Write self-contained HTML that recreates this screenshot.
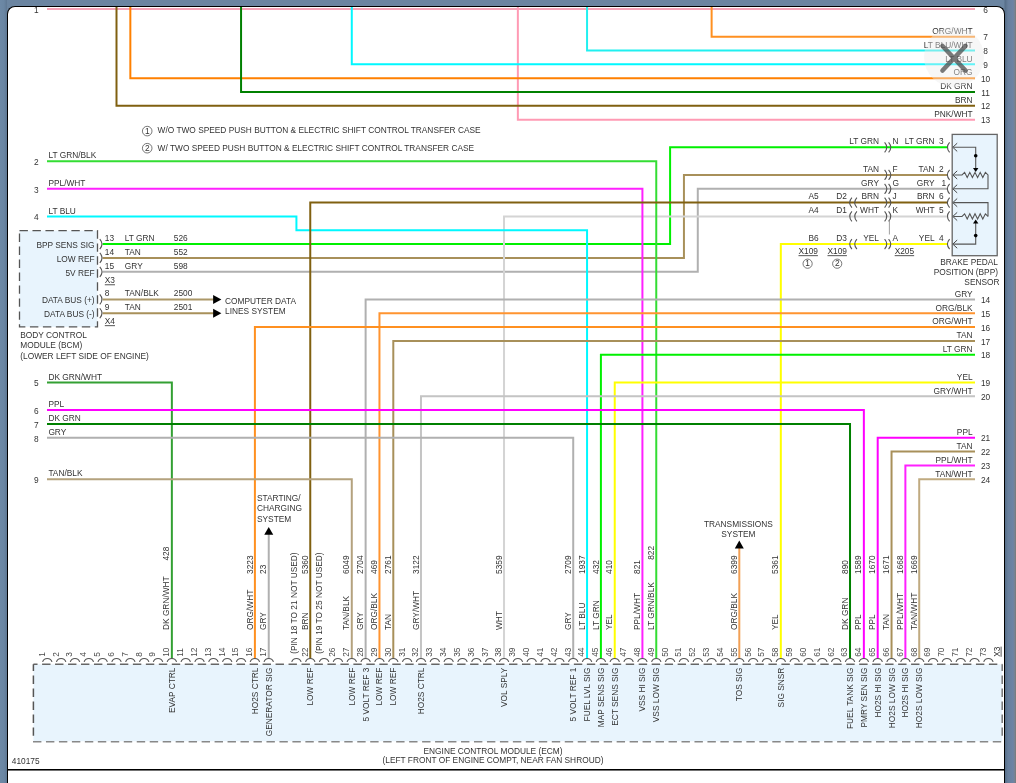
<!DOCTYPE html>
<html><head><meta charset="utf-8"><title>Wiring Diagram</title>
<style>
html,body{margin:0;padding:0;width:1016px;height:783px;overflow:hidden;background:#6b85a1;}
#bg{position:absolute;left:0;top:0;width:1016px;height:783px;background:linear-gradient(90deg,#6d89a6 0,#6a86a3 4px,#5f7893 7px,#6b85a1 7px,#6b85a1 1004px,#566e88 1005px,#687f9c 1008px,#6c84a6 1013px,#7a8290 1015px,#727a74 1016px);}
#panel{position:absolute;left:7px;top:6px;width:996px;height:800px;background:#fff;border:1px solid #000;border-bottom:none;border-radius:8px 8px 0 0;overflow:hidden;}
#hr{position:absolute;left:8px;top:769px;width:996px;height:1px;background:#000;box-shadow:0 1px 0 rgba(0,0,0,0.55);}
svg{position:absolute;left:-8px;top:-7px;}
svg text{font-family:"Liberation Sans",Arial,sans-serif;font-size:8.33px;fill:#333;}
svg text.pn{fill:#4a4a4a;}
#close{position:absolute;left:924px;top:26.5px;width:60px;height:60px;border-radius:50%;background:rgba(236,236,236,0.42);}
</style></head>
<body>
<div id="bg"></div>
<div id="panel">
<svg width="1016" height="783" viewBox="0 0 1016 783">
<g id="wires">
<polyline points="47.0,9.0 975.0,9.0" stroke="#f5a2b6" stroke-width="2" fill="none"/>
<polyline points="517.86,0 517.86,119.64 975.0,119.64" stroke="#ff9ab4" stroke-width="2" fill="none"/>
<polyline points="711.62,0 711.62,36.66 975.0,36.66" stroke="#ff9020" stroke-width="2" fill="none"/>
<polyline points="587.06,0 587.06,50.49 975.0,50.49" stroke="#20f0f0" stroke-width="2" fill="none"/>
<polyline points="351.78,0 351.78,64.32 975.0,64.32" stroke="#00f8ff" stroke-width="2" fill="none"/>
<polyline points="130.34,0 130.34,78.15 975.0,78.15" stroke="#ff8000" stroke-width="2" fill="none"/>
<polyline points="241.06,0 241.06,91.98 975.0,91.98" stroke="#008000" stroke-width="2" fill="none"/>
<polyline points="116.5,0 116.5,105.81 975.0,105.81" stroke="#806010" stroke-width="2" fill="none"/>
<polyline points="102.6,244.11 670.1,244.11 670.1,147.3 947.5,147.3" stroke="#00f000" stroke-width="2" fill="none"/>
<polyline points="102.6,257.94 683.94,257.94 683.94,174.96 947.5,174.96" stroke="#a8905a" stroke-width="2" fill="none"/>
<polyline points="102.6,271.77 697.78,271.77 697.78,188.79 947.5,188.79" stroke="#b0b0b0" stroke-width="2" fill="none"/>
<polyline points="947.5,216.45 504.02,216.45 504.02,658.6" stroke="#d4d4d4" stroke-width="2" fill="none"/>
<polyline points="47.0,161.13 656.26,161.13 656.26,658.6" stroke="#33dd33" stroke-width="2" fill="none"/>
<polyline points="47.0,188.79 642.42,188.79 642.42,658.6" stroke="#ff20ff" stroke-width="2" fill="none"/>
<polyline points="47.0,216.45 296.42,216.45 296.42,230.28 587.06,230.28 587.06,658.6" stroke="#00f8ff" stroke-width="2" fill="none"/>
<polyline points="947.5,202.62 310.26,202.62 310.26,658.6" stroke="#806010" stroke-width="2" fill="none"/>
<polyline points="102.6,299.43 214,299.43" stroke="#ac9868" stroke-width="2" fill="none"/>
<polyline points="102.6,313.26 214,313.26" stroke="#a8905a" stroke-width="2" fill="none"/>
<polyline points="947.5,244.11 780.82,244.11 780.82,658.6" stroke="#ffff00" stroke-width="2" fill="none"/>
<polyline points="975.0,299.43 365.62,299.43 365.62,658.6" stroke="#b0b0b0" stroke-width="2" fill="none"/>
<polyline points="975.0,313.26 379.46,313.26 379.46,658.6" stroke="#ff9430" stroke-width="2" fill="none"/>
<polyline points="975.0,327.09 254.9,327.09 254.9,658.6" stroke="#ff9020" stroke-width="2" fill="none"/>
<polyline points="975.0,340.92 393.3,340.92 393.3,658.6" stroke="#a8905a" stroke-width="2" fill="none"/>
<polyline points="975.0,354.75 600.9,354.75 600.9,658.6" stroke="#00f000" stroke-width="2" fill="none"/>
<polyline points="975.0,382.41 614.74,382.41 614.74,658.6" stroke="#ffff00" stroke-width="2" fill="none"/>
<polyline points="975.0,396.24 420.98,396.24 420.98,658.6" stroke="#c4c4c4" stroke-width="2" fill="none"/>
<polyline points="975.0,437.73 877.7,437.73 877.7,658.6" stroke="#ff00ff" stroke-width="2" fill="none"/>
<polyline points="975.0,451.56 891.54,451.56 891.54,658.6" stroke="#a8905a" stroke-width="2" fill="none"/>
<polyline points="975.0,465.39 905.38,465.39 905.38,658.6" stroke="#ff20ff" stroke-width="2" fill="none"/>
<polyline points="975.0,479.22 919.22,479.22 919.22,658.6" stroke="#c0aa80" stroke-width="2" fill="none"/>
<polyline points="47.0,382.41 171.86,382.41 171.86,658.6" stroke="#33a033" stroke-width="2" fill="none"/>
<polyline points="47.0,410.07 863.86,410.07 863.86,658.6" stroke="#ff00ff" stroke-width="2" fill="none"/>
<polyline points="47.0,423.9 850.02,423.9 850.02,658.6" stroke="#008000" stroke-width="2" fill="none"/>
<polyline points="47.0,437.73 573.22,437.73 573.22,658.6" stroke="#b0b0b0" stroke-width="2" fill="none"/>
<polyline points="47.0,479.22 351.78,479.22 351.78,658.6" stroke="#b4a27e" stroke-width="2" fill="none"/>
<polyline points="268.74,658.6 268.74,533" stroke="#b0b0b0" stroke-width="2" fill="none"/>
<polygon points="264.24,534.7 273.24,534.7 268.74,527" fill="#000"/>
<polyline points="739.3,658.6 739.3,547" stroke="#f2a055" stroke-width="2" fill="none"/>
<polygon points="734.8,548.4 743.8,548.4 739.3,540.6" fill="#000"/>
<polygon points="213.1,294.93 213.1,303.93 221.4,299.43" fill="#000"/>
<polygon points="213.1,308.76 213.1,317.76 221.4,313.26" fill="#000"/>
</g>
<g id="labels">
<text x="985.6" y="12.6" text-anchor="middle">6</text>
<text x="972.6" y="33.96" text-anchor="end">ORG/WHT</text>
<text x="985.6" y="40.26" text-anchor="middle">7</text>
<text x="972.6" y="47.79" text-anchor="end">LT BLU/WHT</text>
<text x="985.6" y="54.09" text-anchor="middle">8</text>
<text x="972.6" y="61.62" text-anchor="end">LT BLU</text>
<text x="985.6" y="67.92" text-anchor="middle">9</text>
<text x="972.6" y="75.45" text-anchor="end">ORG</text>
<text x="985.6" y="81.75" text-anchor="middle">10</text>
<text x="972.6" y="89.28" text-anchor="end">DK GRN</text>
<text x="985.6" y="95.58" text-anchor="middle">11</text>
<text x="972.6" y="103.11" text-anchor="end">BRN</text>
<text x="985.6" y="109.41" text-anchor="middle">12</text>
<text x="972.6" y="116.94" text-anchor="end">PNK/WHT</text>
<text x="985.6" y="123.24" text-anchor="middle">13</text>
<text x="972.6" y="296.73" text-anchor="end">GRY</text>
<text x="985.6" y="303.03" text-anchor="middle">14</text>
<text x="972.6" y="310.56" text-anchor="end">ORG/BLK</text>
<text x="985.6" y="316.86" text-anchor="middle">15</text>
<text x="972.6" y="324.39" text-anchor="end">ORG/WHT</text>
<text x="985.6" y="330.69" text-anchor="middle">16</text>
<text x="972.6" y="338.22" text-anchor="end">TAN</text>
<text x="985.6" y="344.52" text-anchor="middle">17</text>
<text x="972.6" y="352.05" text-anchor="end">LT GRN</text>
<text x="985.6" y="358.35" text-anchor="middle">18</text>
<text x="972.6" y="379.71" text-anchor="end">YEL</text>
<text x="985.6" y="386.01" text-anchor="middle">19</text>
<text x="972.6" y="393.54" text-anchor="end">GRY/WHT</text>
<text x="985.6" y="399.84" text-anchor="middle">20</text>
<text x="972.6" y="435.03" text-anchor="end">PPL</text>
<text x="985.6" y="441.33" text-anchor="middle">21</text>
<text x="972.6" y="448.86" text-anchor="end">TAN</text>
<text x="985.6" y="455.16" text-anchor="middle">22</text>
<text x="972.6" y="462.69" text-anchor="end">PPL/WHT</text>
<text x="985.6" y="468.99" text-anchor="middle">23</text>
<text x="972.6" y="476.52" text-anchor="end">TAN/WHT</text>
<text x="985.6" y="482.82" text-anchor="middle">24</text>
<text x="36.2" y="12.8" text-anchor="middle">1</text>
<text x="48.4" y="158.23">LT GRN/BLK</text>
<text x="36.2" y="164.93" text-anchor="middle">2</text>
<text x="48.4" y="185.89">PPL/WHT</text>
<text x="36.2" y="192.59" text-anchor="middle">3</text>
<text x="48.4" y="213.55">LT BLU</text>
<text x="36.2" y="220.25" text-anchor="middle">4</text>
<text x="48.4" y="379.51">DK GRN/WHT</text>
<text x="36.2" y="386.21" text-anchor="middle">5</text>
<text x="48.4" y="407.17">PPL</text>
<text x="36.2" y="413.87" text-anchor="middle">6</text>
<text x="48.4" y="421.0">DK GRN</text>
<text x="36.2" y="427.7" text-anchor="middle">7</text>
<text x="48.4" y="434.83">GRY</text>
<text x="36.2" y="441.53" text-anchor="middle">8</text>
<text x="48.4" y="476.32">TAN/BLK</text>
<text x="36.2" y="483.02" text-anchor="middle">9</text>
<circle cx="147.2" cy="131.1" r="4.8" fill="none" stroke="#555" stroke-width="0.8"/>
<text x="147.2" y="134.0" text-anchor="middle" font-size="7">1</text>
<text x="157.6" y="133.4">W/O TWO SPEED PUSH BUTTON &amp; ELECTRIC SHIFT CONTROL TRANSFER CASE</text>
<circle cx="147.2" cy="148.2" r="4.8" fill="none" stroke="#555" stroke-width="0.8"/>
<text x="147.2" y="151.1" text-anchor="middle" font-size="7">2</text>
<text x="157.6" y="151.3">W/ TWO SPEED PUSH BUTTON &amp; ELECTRIC SHIFT CONTROL TRANSFER CASE</text>
<rect x="19.5" y="230.6" width="78" height="96.3" fill="#e8f4fd" stroke="#555" stroke-width="1.3" stroke-dasharray="8.4,4.57"/>
<text x="94.6" y="248.01" text-anchor="end">BPP SENS SIG</text>
<path d="M99.8,239.11 Q104.2,244.11 99.8,249.11" fill="none" stroke="#555" stroke-width="1.1"/>
<text x="104.8" y="241.11">13</text>
<text x="124.8" y="241.11">LT GRN</text>
<text x="173.8" y="241.11">526</text>
<text x="94.6" y="261.84" text-anchor="end">LOW REF</text>
<path d="M99.8,252.94 Q104.2,257.94 99.8,262.94" fill="none" stroke="#555" stroke-width="1.1"/>
<text x="104.8" y="254.94">14</text>
<text x="124.8" y="254.94">TAN</text>
<text x="173.8" y="254.94">552</text>
<text x="94.6" y="275.67" text-anchor="end">5V REF</text>
<path d="M99.8,266.77 Q104.2,271.77 99.8,276.77" fill="none" stroke="#555" stroke-width="1.1"/>
<text x="104.8" y="268.77">15</text>
<text x="124.8" y="268.77">GRY</text>
<text x="173.8" y="268.77">598</text>
<text x="94.6" y="303.33" text-anchor="end">DATA BUS (+)</text>
<path d="M99.8,294.43 Q104.2,299.43 99.8,304.43" fill="none" stroke="#555" stroke-width="1.1"/>
<text x="104.8" y="296.43">8</text>
<text x="124.8" y="296.43">TAN/BLK</text>
<text x="173.8" y="296.43">2500</text>
<text x="94.6" y="317.16" text-anchor="end">DATA BUS (-)</text>
<path d="M99.8,308.26 Q104.2,313.26 99.8,318.26" fill="none" stroke="#555" stroke-width="1.1"/>
<text x="104.8" y="310.26">9</text>
<text x="124.8" y="310.26">TAN</text>
<text x="173.8" y="310.26">2501</text>
<text x="104.8" y="283.4" text-decoration="underline">X3</text>
<text x="104.8" y="324.3" text-decoration="underline">X4</text>
<text x="20.3" y="338.2">BODY CONTROL</text>
<text x="20.3" y="348.4">MODULE (BCM)</text>
<text x="20.3" y="358.7">(LOWER LEFT SIDE OF ENGINE)</text>
<text x="225.0" y="303.8">COMPUTER DATA</text>
<text x="225.0" y="314.0">LINES SYSTEM</text>
<text x="257.0" y="501.2">STARTING/</text>
<text x="257.0" y="511.0">CHARGING</text>
<text x="257.0" y="522.1">SYSTEM</text>
<text x="738.4" y="527.3" text-anchor="middle">TRANSMISSIONS</text>
<text x="738.4" y="537.1" text-anchor="middle">SYSTEM</text>
<rect x="952.2" y="134.4" width="45" height="121.3" fill="#e8f4fd" stroke="#666" stroke-width="1.3"/>
<path d="M884.6,142.3 Q889.0,147.3 884.6,152.3" fill="none" stroke="#555" stroke-width="1.1"/>
<path d="M888.6,142.3 Q893.0,147.3 888.6,152.3" fill="none" stroke="#555" stroke-width="1.1"/>
<path d="M949.6,142.3 Q945.2,147.3 949.6,152.3" fill="none" stroke="#555" stroke-width="1.1"/>
<path d="M957.2,143.20000000000002 L952.8,147.3 L957.2,151.4" fill="none" stroke="#333" stroke-width="0.9"/>
<text x="934.6" y="144.1" text-anchor="end">LT GRN</text>
<text x="943.6" y="144.1" text-anchor="end">3</text>
<text x="892.4" y="144.1">N</text>
<text x="879.0" y="144.1" text-anchor="end">LT GRN</text>
<path d="M884.6,169.96 Q889.0,174.96 884.6,179.96" fill="none" stroke="#555" stroke-width="1.1"/>
<path d="M888.6,169.96 Q893.0,174.96 888.6,179.96" fill="none" stroke="#555" stroke-width="1.1"/>
<path d="M949.6,169.96 Q945.2,174.96 949.6,179.96" fill="none" stroke="#555" stroke-width="1.1"/>
<path d="M957.2,170.86 L952.8,174.96 L957.2,179.06" fill="none" stroke="#333" stroke-width="0.9"/>
<text x="934.6" y="171.76" text-anchor="end">TAN</text>
<text x="943.6" y="171.76" text-anchor="end">2</text>
<text x="892.4" y="171.76">F</text>
<text x="879.0" y="171.76" text-anchor="end">TAN</text>
<path d="M884.6,183.79 Q889.0,188.79 884.6,193.79" fill="none" stroke="#555" stroke-width="1.1"/>
<path d="M888.6,183.79 Q893.0,188.79 888.6,193.79" fill="none" stroke="#555" stroke-width="1.1"/>
<path d="M949.6,183.79 Q945.2,188.79 949.6,193.79" fill="none" stroke="#555" stroke-width="1.1"/>
<path d="M957.2,184.69 L952.8,188.79 L957.2,192.89" fill="none" stroke="#333" stroke-width="0.9"/>
<text x="934.6" y="185.59" text-anchor="end">GRY</text>
<text x="946.2" y="185.59" text-anchor="end">1</text>
<text x="892.4" y="185.59">G</text>
<text x="879.0" y="185.59" text-anchor="end">GRY</text>
<path d="M884.6,197.62 Q889.0,202.62 884.6,207.62" fill="none" stroke="#555" stroke-width="1.1"/>
<path d="M888.6,197.62 Q893.0,202.62 888.6,207.62" fill="none" stroke="#555" stroke-width="1.1"/>
<path d="M949.6,197.62 Q945.2,202.62 949.6,207.62" fill="none" stroke="#555" stroke-width="1.1"/>
<path d="M957.2,198.52 L952.8,202.62 L957.2,206.72" fill="none" stroke="#333" stroke-width="0.9"/>
<text x="934.6" y="199.42" text-anchor="end">BRN</text>
<text x="943.6" y="199.42" text-anchor="end">6</text>
<text x="892.4" y="199.42">J</text>
<text x="879.0" y="199.42" text-anchor="end">BRN</text>
<path d="M884.6,211.45 Q889.0,216.45 884.6,221.45" fill="none" stroke="#555" stroke-width="1.1"/>
<path d="M888.6,211.45 Q893.0,216.45 888.6,221.45" fill="none" stroke="#555" stroke-width="1.1"/>
<path d="M949.6,211.45 Q945.2,216.45 949.6,221.45" fill="none" stroke="#555" stroke-width="1.1"/>
<path d="M957.2,212.35 L952.8,216.45 L957.2,220.54999999999998" fill="none" stroke="#333" stroke-width="0.9"/>
<text x="934.6" y="213.25" text-anchor="end">WHT</text>
<text x="943.6" y="213.25" text-anchor="end">5</text>
<text x="892.4" y="213.25">K</text>
<text x="879.0" y="213.25" text-anchor="end">WHT</text>
<path d="M884.6,239.11 Q889.0,244.11 884.6,249.11" fill="none" stroke="#555" stroke-width="1.1"/>
<path d="M888.6,239.11 Q893.0,244.11 888.6,249.11" fill="none" stroke="#555" stroke-width="1.1"/>
<path d="M949.6,239.11 Q945.2,244.11 949.6,249.11" fill="none" stroke="#555" stroke-width="1.1"/>
<path d="M957.2,240.01000000000002 L952.8,244.11 L957.2,248.21" fill="none" stroke="#333" stroke-width="0.9"/>
<text x="934.6" y="240.91" text-anchor="end">YEL</text>
<text x="943.6" y="240.91" text-anchor="end">4</text>
<text x="892.4" y="240.91">A</text>
<text x="879.0" y="240.91" text-anchor="end">YEL</text>
<path d="M851.9,197.62 Q847.5,202.62 851.9,207.62" fill="none" stroke="#555" stroke-width="1.1"/>
<path d="M856.9,197.62 Q852.5,202.62 856.9,207.62" fill="none" stroke="#555" stroke-width="1.1"/>
<text x="846.9" y="199.42" text-anchor="end">D2</text>
<text x="818.7" y="199.42" text-anchor="end">A5</text>
<path d="M851.9,211.45 Q847.5,216.45 851.9,221.45" fill="none" stroke="#555" stroke-width="1.1"/>
<path d="M856.9,211.45 Q852.5,216.45 856.9,221.45" fill="none" stroke="#555" stroke-width="1.1"/>
<text x="846.9" y="213.25" text-anchor="end">D1</text>
<text x="818.7" y="213.25" text-anchor="end">A4</text>
<path d="M851.9,239.11 Q847.5,244.11 851.9,249.11" fill="none" stroke="#555" stroke-width="1.1"/>
<path d="M856.9,239.11 Q852.5,244.11 856.9,249.11" fill="none" stroke="#555" stroke-width="1.1"/>
<text x="846.9" y="240.91" text-anchor="end">D3</text>
<text x="818.7" y="240.91" text-anchor="end">B6</text>
<line x1="889.4" y1="219.6" x2="889.4" y2="234.5" stroke="#888" stroke-width="0.8"/>
<text x="808.2" y="254.3" text-anchor="middle" text-decoration="underline">X109</text>
<text x="837.2" y="254.3" text-anchor="middle" text-decoration="underline">X109</text>
<text x="904.4" y="254.3" text-anchor="middle" text-decoration="underline">X205</text>
<circle cx="807.6" cy="263.7" r="4.6" fill="none" stroke="#555" stroke-width="0.8"/>
<text x="807.6" y="266.4" text-anchor="middle" font-size="7">1</text>
<circle cx="837.2" cy="263.7" r="4.6" fill="none" stroke="#555" stroke-width="0.8"/>
<text x="837.2" y="266.4" text-anchor="middle" font-size="7">2</text>
<text x="998" y="265.2" text-anchor="end">BRAKE PEDAL</text>
<text x="998" y="275.2" text-anchor="end">POSITION (BPP)</text>
<text x="999.5" y="285.2" text-anchor="end">SENSOR</text>
<path d="M953.5,147.3 H975.7 V168.96" stroke="#555" stroke-width="1.1" fill="none"/>
<circle cx="975.7" cy="155.7" r="1.8" fill="#000"/>
<polygon points="973,167.96 978.4,167.96 975.7,171.96" fill="#000"/>
<path d="M953.5,174.96 H962 L964.60,172.36 L967.20,177.56 L969.80,172.36 L972.40,177.56 L975.00,172.36 L977.60,177.56 L980.20,172.36 L982.80,177.56 L985.40,172.36 L988.00,174.96 V188.79 H953.5" stroke="#555" stroke-width="1.1" fill="none"/>
<path d="M953.5,202.62 H988 V216.45 " stroke="#555" stroke-width="1.1" fill="none"/>
<path d="M953.5,216.45 H962 L964.60,213.85 L967.20,219.05 L969.80,213.85 L972.40,219.05 L975.00,213.85 L977.60,219.05 L980.20,213.85 L982.80,219.05 L985.40,213.85 L988.00,216.45" stroke="#555" stroke-width="1.1" fill="none"/>
<path d="M953.5,244.11 H975.7 V222.45" stroke="#555" stroke-width="1.1" fill="none"/>
<circle cx="975.7" cy="235.6" r="1.8" fill="#000"/>
<polygon points="973,223.45 978.4,223.45 975.7,219.45" fill="#000"/>
<rect x="33.4" y="664.3" width="968.8" height="77" fill="#e8f4fd"/>
<line x1="33.4" y1="664.3" x2="1002.2" y2="664.3" stroke="#666" stroke-dasharray="8.4,4.57" stroke-width="1.5" fill="none" stroke-dashoffset="4.27"/>
<line x1="33.4" y1="664.3" x2="33.4" y2="737.6" stroke="#555" stroke-dasharray="8.4,4.57" stroke-width="1.5" fill="none" stroke-dashoffset="1.7"/>
<line x1="1002.2" y1="664.3" x2="1002.2" y2="737.6" stroke="#777" stroke-dasharray="8.4,4.57" stroke-width="1.5" fill="none" stroke-dashoffset="1.7"/>
<line x1="33.0" y1="741.8" x2="1002.2" y2="741.8" stroke="#888" stroke-dasharray="8.4,4.57" stroke-width="1.5" fill="none" stroke-dashoffset="0"/>
<path d="M42.60,661.9 C43.90,657.4 50.70,657.4 52.00,661.9" fill="none" stroke="#555" stroke-width="1.15"/>
<path d="M56.44,661.9 C57.74,657.4 64.54,657.4 65.84,661.9" fill="none" stroke="#555" stroke-width="1.15"/>
<path d="M70.28,661.9 C71.58,657.4 78.38,657.4 79.68,661.9" fill="none" stroke="#555" stroke-width="1.15"/>
<path d="M84.12,661.9 C85.42,657.4 92.22,657.4 93.52,661.9" fill="none" stroke="#555" stroke-width="1.15"/>
<path d="M97.96,661.9 C99.26,657.4 106.06,657.4 107.36,661.9" fill="none" stroke="#555" stroke-width="1.15"/>
<path d="M111.80,661.9 C113.10,657.4 119.90,657.4 121.20,661.9" fill="none" stroke="#555" stroke-width="1.15"/>
<path d="M125.64,661.9 C126.94,657.4 133.74,657.4 135.04,661.9" fill="none" stroke="#555" stroke-width="1.15"/>
<path d="M139.48,661.9 C140.78,657.4 147.58,657.4 148.88,661.9" fill="none" stroke="#555" stroke-width="1.15"/>
<path d="M153.32,661.9 C154.62,657.4 161.42,657.4 162.72,661.9" fill="none" stroke="#555" stroke-width="1.15"/>
<path d="M167.16,661.9 C168.46,657.4 175.26,657.4 176.56,661.9" fill="none" stroke="#555" stroke-width="1.15"/>
<path d="M181.00,661.9 C182.30,657.4 189.10,657.4 190.40,661.9" fill="none" stroke="#555" stroke-width="1.15"/>
<path d="M194.84,661.9 C196.14,657.4 202.94,657.4 204.24,661.9" fill="none" stroke="#555" stroke-width="1.15"/>
<path d="M208.68,661.9 C209.98,657.4 216.78,657.4 218.08,661.9" fill="none" stroke="#555" stroke-width="1.15"/>
<path d="M222.52,661.9 C223.82,657.4 230.62,657.4 231.92,661.9" fill="none" stroke="#555" stroke-width="1.15"/>
<path d="M236.36,661.9 C237.66,657.4 244.46,657.4 245.76,661.9" fill="none" stroke="#555" stroke-width="1.15"/>
<path d="M250.20,661.9 C251.50,657.4 258.30,657.4 259.60,661.9" fill="none" stroke="#555" stroke-width="1.15"/>
<path d="M264.04,661.9 C265.34,657.4 272.14,657.4 273.44,661.9" fill="none" stroke="#555" stroke-width="1.15"/>
<path d="M291.72,661.9 C293.02,657.4 299.82,657.4 301.12,661.9" fill="none" stroke="#555" stroke-width="1.15"/>
<path d="M305.56,661.9 C306.86,657.4 313.66,657.4 314.96,661.9" fill="none" stroke="#555" stroke-width="1.15"/>
<path d="M319.40,661.9 C320.70,657.4 327.50,657.4 328.80,661.9" fill="none" stroke="#555" stroke-width="1.15"/>
<path d="M333.24,661.9 C334.54,657.4 341.34,657.4 342.64,661.9" fill="none" stroke="#555" stroke-width="1.15"/>
<path d="M347.08,661.9 C348.38,657.4 355.18,657.4 356.48,661.9" fill="none" stroke="#555" stroke-width="1.15"/>
<path d="M360.92,661.9 C362.22,657.4 369.02,657.4 370.32,661.9" fill="none" stroke="#555" stroke-width="1.15"/>
<path d="M374.76,661.9 C376.06,657.4 382.86,657.4 384.16,661.9" fill="none" stroke="#555" stroke-width="1.15"/>
<path d="M388.60,661.9 C389.90,657.4 396.70,657.4 398.00,661.9" fill="none" stroke="#555" stroke-width="1.15"/>
<path d="M402.44,661.9 C403.74,657.4 410.54,657.4 411.84,661.9" fill="none" stroke="#555" stroke-width="1.15"/>
<path d="M416.28,661.9 C417.58,657.4 424.38,657.4 425.68,661.9" fill="none" stroke="#555" stroke-width="1.15"/>
<path d="M430.12,661.9 C431.42,657.4 438.22,657.4 439.52,661.9" fill="none" stroke="#555" stroke-width="1.15"/>
<path d="M443.96,661.9 C445.26,657.4 452.06,657.4 453.36,661.9" fill="none" stroke="#555" stroke-width="1.15"/>
<path d="M457.80,661.9 C459.10,657.4 465.90,657.4 467.20,661.9" fill="none" stroke="#555" stroke-width="1.15"/>
<path d="M471.64,661.9 C472.94,657.4 479.74,657.4 481.04,661.9" fill="none" stroke="#555" stroke-width="1.15"/>
<path d="M485.48,661.9 C486.78,657.4 493.58,657.4 494.88,661.9" fill="none" stroke="#555" stroke-width="1.15"/>
<path d="M499.32,661.9 C500.62,657.4 507.42,657.4 508.72,661.9" fill="none" stroke="#555" stroke-width="1.15"/>
<path d="M513.16,661.9 C514.46,657.4 521.26,657.4 522.56,661.9" fill="none" stroke="#555" stroke-width="1.15"/>
<path d="M527.00,661.9 C528.30,657.4 535.10,657.4 536.40,661.9" fill="none" stroke="#555" stroke-width="1.15"/>
<path d="M540.84,661.9 C542.14,657.4 548.94,657.4 550.24,661.9" fill="none" stroke="#555" stroke-width="1.15"/>
<path d="M554.68,661.9 C555.98,657.4 562.78,657.4 564.08,661.9" fill="none" stroke="#555" stroke-width="1.15"/>
<path d="M568.52,661.9 C569.82,657.4 576.62,657.4 577.92,661.9" fill="none" stroke="#555" stroke-width="1.15"/>
<path d="M582.36,661.9 C583.66,657.4 590.46,657.4 591.76,661.9" fill="none" stroke="#555" stroke-width="1.15"/>
<path d="M596.20,661.9 C597.50,657.4 604.30,657.4 605.60,661.9" fill="none" stroke="#555" stroke-width="1.15"/>
<path d="M610.04,661.9 C611.34,657.4 618.14,657.4 619.44,661.9" fill="none" stroke="#555" stroke-width="1.15"/>
<path d="M623.88,661.9 C625.18,657.4 631.98,657.4 633.28,661.9" fill="none" stroke="#555" stroke-width="1.15"/>
<path d="M637.72,661.9 C639.02,657.4 645.82,657.4 647.12,661.9" fill="none" stroke="#555" stroke-width="1.15"/>
<path d="M651.56,661.9 C652.86,657.4 659.66,657.4 660.96,661.9" fill="none" stroke="#555" stroke-width="1.15"/>
<path d="M665.40,661.9 C666.70,657.4 673.50,657.4 674.80,661.9" fill="none" stroke="#555" stroke-width="1.15"/>
<path d="M679.24,661.9 C680.54,657.4 687.34,657.4 688.64,661.9" fill="none" stroke="#555" stroke-width="1.15"/>
<path d="M693.08,661.9 C694.38,657.4 701.18,657.4 702.48,661.9" fill="none" stroke="#555" stroke-width="1.15"/>
<path d="M706.92,661.9 C708.22,657.4 715.02,657.4 716.32,661.9" fill="none" stroke="#555" stroke-width="1.15"/>
<path d="M720.76,661.9 C722.06,657.4 728.86,657.4 730.16,661.9" fill="none" stroke="#555" stroke-width="1.15"/>
<path d="M734.60,661.9 C735.90,657.4 742.70,657.4 744.00,661.9" fill="none" stroke="#555" stroke-width="1.15"/>
<path d="M748.44,661.9 C749.74,657.4 756.54,657.4 757.84,661.9" fill="none" stroke="#555" stroke-width="1.15"/>
<path d="M762.28,661.9 C763.58,657.4 770.38,657.4 771.68,661.9" fill="none" stroke="#555" stroke-width="1.15"/>
<path d="M776.12,661.9 C777.42,657.4 784.22,657.4 785.52,661.9" fill="none" stroke="#555" stroke-width="1.15"/>
<path d="M789.96,661.9 C791.26,657.4 798.06,657.4 799.36,661.9" fill="none" stroke="#555" stroke-width="1.15"/>
<path d="M803.80,661.9 C805.10,657.4 811.90,657.4 813.20,661.9" fill="none" stroke="#555" stroke-width="1.15"/>
<path d="M817.64,661.9 C818.94,657.4 825.74,657.4 827.04,661.9" fill="none" stroke="#555" stroke-width="1.15"/>
<path d="M831.48,661.9 C832.78,657.4 839.58,657.4 840.88,661.9" fill="none" stroke="#555" stroke-width="1.15"/>
<path d="M845.32,661.9 C846.62,657.4 853.42,657.4 854.72,661.9" fill="none" stroke="#555" stroke-width="1.15"/>
<path d="M859.16,661.9 C860.46,657.4 867.26,657.4 868.56,661.9" fill="none" stroke="#555" stroke-width="1.15"/>
<path d="M873.00,661.9 C874.30,657.4 881.10,657.4 882.40,661.9" fill="none" stroke="#555" stroke-width="1.15"/>
<path d="M886.84,661.9 C888.14,657.4 894.94,657.4 896.24,661.9" fill="none" stroke="#555" stroke-width="1.15"/>
<path d="M900.68,661.9 C901.98,657.4 908.78,657.4 910.08,661.9" fill="none" stroke="#555" stroke-width="1.15"/>
<path d="M914.52,661.9 C915.82,657.4 922.62,657.4 923.92,661.9" fill="none" stroke="#555" stroke-width="1.15"/>
<path d="M928.36,661.9 C929.66,657.4 936.46,657.4 937.76,661.9" fill="none" stroke="#555" stroke-width="1.15"/>
<path d="M942.20,661.9 C943.50,657.4 950.30,657.4 951.60,661.9" fill="none" stroke="#555" stroke-width="1.15"/>
<path d="M956.04,661.9 C957.34,657.4 964.14,657.4 965.44,661.9" fill="none" stroke="#555" stroke-width="1.15"/>
<path d="M969.88,661.9 C971.18,657.4 977.98,657.4 979.28,661.9" fill="none" stroke="#555" stroke-width="1.15"/>
<path d="M983.72,661.9 C985.02,657.4 991.82,657.4 993.12,661.9" fill="none" stroke="#555" stroke-width="1.15"/>
<text transform="translate(44.7,656.8) rotate(-90)" class="pn">1</text>
<text transform="translate(58.54,656.8) rotate(-90)" class="pn">2</text>
<text transform="translate(72.38,656.8) rotate(-90)" class="pn">3</text>
<text transform="translate(86.22,656.8) rotate(-90)" class="pn">4</text>
<text transform="translate(100.06,656.8) rotate(-90)" class="pn">5</text>
<text transform="translate(113.9,656.8) rotate(-90)" class="pn">6</text>
<text transform="translate(127.74,656.8) rotate(-90)" class="pn">7</text>
<text transform="translate(141.58,656.8) rotate(-90)" class="pn">8</text>
<text transform="translate(155.42,656.8) rotate(-90)" class="pn">9</text>
<text transform="translate(169.26,656.8) rotate(-90)" class="pn">10</text>
<text transform="translate(183.1,656.8) rotate(-90)" class="pn">11</text>
<text transform="translate(196.94,656.8) rotate(-90)" class="pn">12</text>
<text transform="translate(210.78,656.8) rotate(-90)" class="pn">13</text>
<text transform="translate(224.62,656.8) rotate(-90)" class="pn">14</text>
<text transform="translate(238.46,656.8) rotate(-90)" class="pn">15</text>
<text transform="translate(252.3,656.8) rotate(-90)" class="pn">16</text>
<text transform="translate(266.14,656.8) rotate(-90)" class="pn">17</text>
<text transform="translate(307.66,656.8) rotate(-90)" class="pn">22</text>
<text transform="translate(335.34,656.8) rotate(-90)" class="pn">26</text>
<text transform="translate(349.18,656.8) rotate(-90)" class="pn">27</text>
<text transform="translate(363.02,656.8) rotate(-90)" class="pn">28</text>
<text transform="translate(376.86,656.8) rotate(-90)" class="pn">29</text>
<text transform="translate(390.7,656.8) rotate(-90)" class="pn">30</text>
<text transform="translate(404.54,656.8) rotate(-90)" class="pn">31</text>
<text transform="translate(418.38,656.8) rotate(-90)" class="pn">32</text>
<text transform="translate(432.22,656.8) rotate(-90)" class="pn">33</text>
<text transform="translate(446.06,656.8) rotate(-90)" class="pn">34</text>
<text transform="translate(459.9,656.8) rotate(-90)" class="pn">35</text>
<text transform="translate(473.74,656.8) rotate(-90)" class="pn">36</text>
<text transform="translate(487.58,656.8) rotate(-90)" class="pn">37</text>
<text transform="translate(501.42,656.8) rotate(-90)" class="pn">38</text>
<text transform="translate(515.26,656.8) rotate(-90)" class="pn">39</text>
<text transform="translate(529.1,656.8) rotate(-90)" class="pn">40</text>
<text transform="translate(542.94,656.8) rotate(-90)" class="pn">41</text>
<text transform="translate(556.78,656.8) rotate(-90)" class="pn">42</text>
<text transform="translate(570.62,656.8) rotate(-90)" class="pn">43</text>
<text transform="translate(584.46,656.8) rotate(-90)" class="pn">44</text>
<text transform="translate(598.3,656.8) rotate(-90)" class="pn">45</text>
<text transform="translate(612.14,656.8) rotate(-90)" class="pn">46</text>
<text transform="translate(625.98,656.8) rotate(-90)" class="pn">47</text>
<text transform="translate(639.82,656.8) rotate(-90)" class="pn">48</text>
<text transform="translate(653.66,656.8) rotate(-90)" class="pn">49</text>
<text transform="translate(667.5,656.8) rotate(-90)" class="pn">50</text>
<text transform="translate(681.34,656.8) rotate(-90)" class="pn">51</text>
<text transform="translate(695.18,656.8) rotate(-90)" class="pn">52</text>
<text transform="translate(709.02,656.8) rotate(-90)" class="pn">53</text>
<text transform="translate(722.86,656.8) rotate(-90)" class="pn">54</text>
<text transform="translate(736.7,656.8) rotate(-90)" class="pn">55</text>
<text transform="translate(750.54,656.8) rotate(-90)" class="pn">56</text>
<text transform="translate(764.38,656.8) rotate(-90)" class="pn">57</text>
<text transform="translate(778.22,656.8) rotate(-90)" class="pn">58</text>
<text transform="translate(792.06,656.8) rotate(-90)" class="pn">59</text>
<text transform="translate(805.9,656.8) rotate(-90)" class="pn">60</text>
<text transform="translate(819.74,656.8) rotate(-90)" class="pn">61</text>
<text transform="translate(833.58,656.8) rotate(-90)" class="pn">62</text>
<text transform="translate(847.42,656.8) rotate(-90)" class="pn">63</text>
<text transform="translate(861.26,656.8) rotate(-90)" class="pn">64</text>
<text transform="translate(875.1,656.8) rotate(-90)" class="pn">65</text>
<text transform="translate(888.94,656.8) rotate(-90)" class="pn">66</text>
<text transform="translate(902.78,656.8) rotate(-90)" class="pn">67</text>
<text transform="translate(916.62,656.8) rotate(-90)" class="pn">68</text>
<text transform="translate(930.46,656.8) rotate(-90)" class="pn">69</text>
<text transform="translate(944.3,656.8) rotate(-90)" class="pn">70</text>
<text transform="translate(958.14,656.8) rotate(-90)" class="pn">71</text>
<text transform="translate(971.98,656.8) rotate(-90)" class="pn">72</text>
<text transform="translate(985.82,656.8) rotate(-90)" class="pn">73</text>
<text transform="translate(999.66,656.8) rotate(-90)" text-decoration="underline">X3</text>
<text transform="translate(296.8,653.8) rotate(-90)">(PIN 18 TO 21 NOT USED)</text>
<text transform="translate(321.5,653.8) rotate(-90)">(PIN 19 TO 25 NOT USED)</text>
<text transform="translate(169.46,630.0) rotate(-90)">DK GRN/WHT</text>
<text transform="translate(169.46,560.6) rotate(-90)">428</text>
<text transform="translate(252.5,630.0) rotate(-90)">ORG/WHT</text>
<text transform="translate(252.5,573.9) rotate(-90)">3223</text>
<text transform="translate(266.34,630.0) rotate(-90)">GRY</text>
<text transform="translate(266.34,573.9) rotate(-90)">23</text>
<text transform="translate(307.86,630.0) rotate(-90)">BRN</text>
<text transform="translate(307.86,573.9) rotate(-90)">5360</text>
<text transform="translate(349.38,630.0) rotate(-90)">TAN/BLK</text>
<text transform="translate(349.38,573.9) rotate(-90)">6049</text>
<text transform="translate(363.22,630.0) rotate(-90)">GRY</text>
<text transform="translate(363.22,573.9) rotate(-90)">2704</text>
<text transform="translate(377.06,630.0) rotate(-90)">ORG/BLK</text>
<text transform="translate(377.06,573.9) rotate(-90)">469</text>
<text transform="translate(390.9,630.0) rotate(-90)">TAN</text>
<text transform="translate(390.9,573.9) rotate(-90)">2761</text>
<text transform="translate(418.58,630.0) rotate(-90)">GRY/WHT</text>
<text transform="translate(418.58,573.9) rotate(-90)">3122</text>
<text transform="translate(501.62,630.0) rotate(-90)">WHT</text>
<text transform="translate(501.62,573.9) rotate(-90)">5359</text>
<text transform="translate(570.82,630.0) rotate(-90)">GRY</text>
<text transform="translate(570.82,573.9) rotate(-90)">2709</text>
<text transform="translate(584.66,630.0) rotate(-90)">LT BLU</text>
<text transform="translate(584.66,573.9) rotate(-90)">1937</text>
<text transform="translate(598.5,630.0) rotate(-90)">LT GRN</text>
<text transform="translate(598.5,573.9) rotate(-90)">432</text>
<text transform="translate(612.34,630.0) rotate(-90)">YEL</text>
<text transform="translate(612.34,573.9) rotate(-90)">410</text>
<text transform="translate(640.02,630.0) rotate(-90)">PPL/WHT</text>
<text transform="translate(640.02,573.9) rotate(-90)">821</text>
<text transform="translate(653.86,630.0) rotate(-90)">LT GRN/BLK</text>
<text transform="translate(653.86,559.8) rotate(-90)">822</text>
<text transform="translate(736.9,630.0) rotate(-90)">ORG/BLK</text>
<text transform="translate(736.9,573.9) rotate(-90)">6399</text>
<text transform="translate(778.42,630.0) rotate(-90)">YEL</text>
<text transform="translate(778.42,573.9) rotate(-90)">5361</text>
<text transform="translate(847.62,630.0) rotate(-90)">DK GRN</text>
<text transform="translate(847.62,573.9) rotate(-90)">890</text>
<text transform="translate(861.46,630.0) rotate(-90)">PPL</text>
<text transform="translate(861.46,573.9) rotate(-90)">1589</text>
<text transform="translate(875.3,630.0) rotate(-90)">PPL</text>
<text transform="translate(875.3,573.9) rotate(-90)">1670</text>
<text transform="translate(889.14,630.0) rotate(-90)">TAN</text>
<text transform="translate(889.14,573.9) rotate(-90)">1671</text>
<text transform="translate(902.98,630.0) rotate(-90)">PPL/WHT</text>
<text transform="translate(902.98,573.9) rotate(-90)">1668</text>
<text transform="translate(916.82,630.0) rotate(-90)">TAN/WHT</text>
<text transform="translate(916.82,573.9) rotate(-90)">1669</text>
<text transform="translate(174.86,667.6) rotate(-90)" text-anchor="end">EVAP CTRL</text>
<text transform="translate(257.9,667.6) rotate(-90)" text-anchor="end">HO2S CTRL</text>
<text transform="translate(271.74,667.6) rotate(-90)" text-anchor="end">GENERATOR SIG</text>
<text transform="translate(313.26,667.6) rotate(-90)" text-anchor="end">LOW REF</text>
<text transform="translate(354.78,667.6) rotate(-90)" text-anchor="end">LOW REF</text>
<text transform="translate(368.62,667.6) rotate(-90)" text-anchor="end">5 VOLT REF 3</text>
<text transform="translate(382.46,667.6) rotate(-90)" text-anchor="end">LOW REF</text>
<text transform="translate(396.3,667.6) rotate(-90)" text-anchor="end">LOW REF</text>
<text transform="translate(423.98,667.6) rotate(-90)" text-anchor="end">HO2S CTRL</text>
<text transform="translate(507.02,667.6) rotate(-90)" text-anchor="end">VOL SPLY</text>
<text transform="translate(576.22,667.6) rotate(-90)" text-anchor="end">5 VOLT REF 1</text>
<text transform="translate(590.06,667.6) rotate(-90)" text-anchor="end">FUEL LVL SIG</text>
<text transform="translate(603.9,667.6) rotate(-90)" text-anchor="end">MAP SENS SIG</text>
<text transform="translate(617.74,667.6) rotate(-90)" text-anchor="end">ECT SENS SIG</text>
<text transform="translate(645.42,667.6) rotate(-90)" text-anchor="end">VSS HI SIG</text>
<text transform="translate(659.26,667.6) rotate(-90)" text-anchor="end">VSS LOW SIG</text>
<text transform="translate(742.3,667.6) rotate(-90)" text-anchor="end">TOS SIG</text>
<text transform="translate(783.82,667.6) rotate(-90)" text-anchor="end">SIG SNSR</text>
<text transform="translate(853.02,667.6) rotate(-90)" text-anchor="end">FUEL TANK SIG</text>
<text transform="translate(866.86,667.6) rotate(-90)" text-anchor="end">PMRY SEN SIG</text>
<text transform="translate(880.7,667.6) rotate(-90)" text-anchor="end">HO2S HI SIG</text>
<text transform="translate(894.54,667.6) rotate(-90)" text-anchor="end">HO2S LOW SIG</text>
<text transform="translate(908.38,667.6) rotate(-90)" text-anchor="end">HO2S HI SIG</text>
<text transform="translate(922.22,667.6) rotate(-90)" text-anchor="end">HO2S LOW SIG</text>
<text x="493.0" y="753.6" text-anchor="middle">ENGINE CONTROL MODULE (ECM)</text>
<text x="493.0" y="763.4" text-anchor="middle">(LEFT FRONT OF ENGINE COMPT, NEAR FAN SHROUD)</text>
<text x="11.8" y="764.2">410175</text>
</g>
</svg>
</div>
<div id="hr"></div>
<div id="close"><svg width="60" height="60" viewBox="0 0 60 60" style="left:0;top:0"><path d="M18.5,19 L41.5,43.5 M41.5,19 L18.5,43.5" stroke="rgba(70,70,70,0.72)" stroke-width="4.6" stroke-linecap="round"/></svg></div>
</body></html>
